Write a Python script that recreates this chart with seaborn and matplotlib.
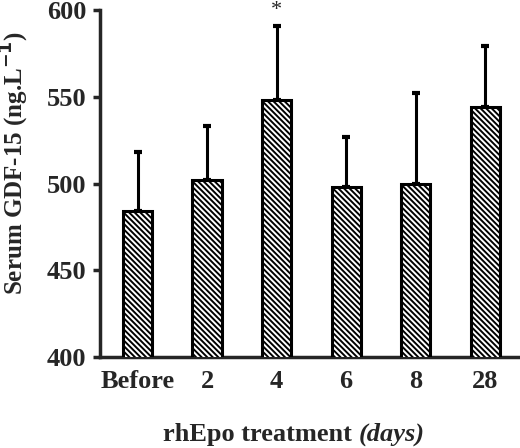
import numpy as np
import pandas as pd
import matplotlib
matplotlib.use("Agg")
import matplotlib.pyplot as plt
import seaborn as sns

# values
days = ["Before", "2", "4", "6", "8", "28"]
gdf15_mean = [484, 502, 548, 498, 500, 544]
gdf15_sd = [34, 31, 43, 29, 52, 35]
signif = ["", "", "*", "", "", ""]

df = pd.DataFrame({"day": days, "gdf15": gdf15_mean})

sns.set_style("ticks")
plt.rcParams["font.family"] = ["Liberation Serif", "DejaVu Serif"]
plt.rcParams["font.weight"] = "bold"
plt.rcParams["hatch.linewidth"] = 1.4

fig = plt.figure(figsize=(5.2, 4.48), dpi=100)
ax = fig.add_axes([0.1923, 0.2031, 0.8077, 0.7746])

sns.barplot(data=df, x="day", y="gdf15", color="white", edgecolor="black",
            linewidth=2.2, width=0.42, ax=ax, zorder=3)
for p in ax.patches:
    p.set_hatch("\\\\\\\\\\\\")
    p.set_facecolor("white")

xpos = np.arange(len(days))
ax.errorbar(xpos, gdf15_mean, yerr=[np.zeros(len(days)), gdf15_sd], fmt="none",
            ecolor="black", elinewidth=2.2, capsize=3, capthick=3, zorder=2)
for x, m, s, t in zip(xpos, gdf15_mean, gdf15_sd, signif):
    if t:
        ax.text(x, m + s + 14, t, ha="center", va="top", fontsize=16,
                fontweight="normal", clip_on=False)

ax.set_ylim(400, 600)
ax.set_xlim(-0.54, 5.5)
ax.set_yticks([400, 450, 500, 550, 600])
sns.despine(ax=ax)
for s in ["left", "bottom"]:
    ax.spines[s].set_linewidth(2.5)
ax.tick_params(axis="y", length=5, width=2.5, labelsize=19, pad=5)
ax.tick_params(axis="x", length=0, labelsize=19, pad=9)
for lab in ax.get_xticklabels() + ax.get_yticklabels():
    lab.set_fontweight("bold")

ax.set_xlabel("")
ax.set_ylabel("Serum GDF-15 (ng.L$^{\\mathbf{-1}}$)", fontsize=18, fontweight="bold")
ax.yaxis.set_label_coords(-0.165, 0.56)

t1 = fig.text(163 / 520, 0.015, "rhEpo treatment ", fontsize=19, fontweight="bold",
              ha="left", va="baseline")
ax.annotate("(days)", xy=(1, 0), xycoords=t1, fontsize=19, fontweight="bold",
            fontstyle="italic", ha="left", va="bottom", annotation_clip=False)

fig.savefig("out.png", dpi=100)
